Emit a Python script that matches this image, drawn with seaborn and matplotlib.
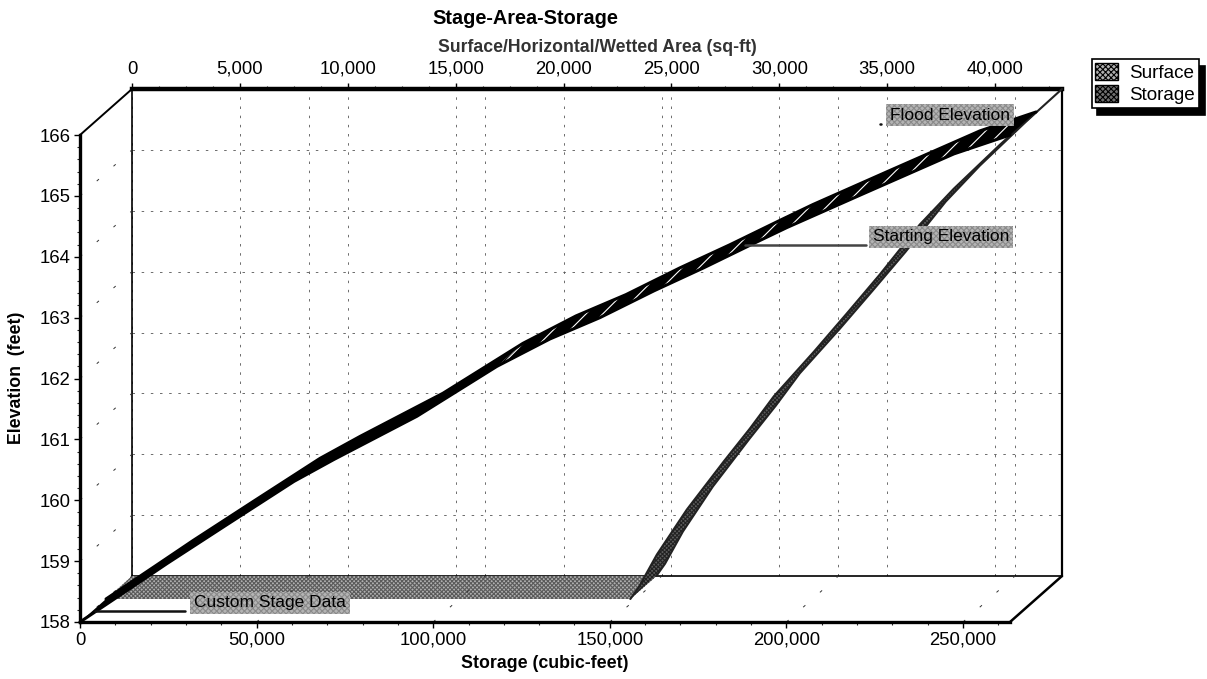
#Stage-area-storage chart, drawn as a fake 3D ribbon chart
import matplotlib
matplotlib.use('Agg')
import matplotlib.pyplot as plt
from matplotlib.lines import Line2D
from matplotlib.patches import Patch
from matplotlib.ticker import FuncFormatter, MultipleLocator
import numpy as np
import pandas as pd
import seaborn as sns

#values
storage_cuft = [0, 14150, 24630, 41620, 60590, 71900, 95400, 118050, 133060, 147210,
                162500, 176650, 190800, 200150, 221950, 247430, 263300]
storage_elev = [158, 158.55, 158.96, 159.6, 160.31, 160.67, 161.38, 162.2, 162.65, 163.0,
                163.44, 163.82, 164.22, 164.48, 165.04, 165.69, 166.0]
area_sqft = [0, 24300, 24700, 25530, 26920, 28630, 29840, 30950, 32800, 34330,
             35860, 37710, 39290, 41420, 43100]
area_elev = [158, 158, 158.2, 158.73, 159.47, 160.26, 160.8, 161.33, 162.06, 162.69,
             163.33, 164.15, 164.74, 165.46, 166.0]
storage_ticks = [0, 50000, 100000, 150000, 200000, 250000]
area_ticks = [0, 5000, 10000, 15000, 20000, 25000, 30000, 35000, 40000]
elev_ticks = [158, 159, 160, 161, 162, 163, 164, 165, 166]

#figure size and the front/back walls, in pixels
W, H = 1207, 679
front_l, front_b, depth_x, depth_y, wall_w, wall_h = 80, 622, 52, 46, 930, 487
storage_max, area_max = 263300, 43100
elev_min, elev_max = 158, 166

sns.set_theme(style='ticks')
plt.rcParams['font.family'] = ['Liberation Sans', 'DejaVu Sans']
plt.rcParams['hatch.linewidth'] = 0.8

fig = plt.figure(figsize=(W / 100, H / 100), dpi=100)
back = fig.add_axes([(front_l + depth_x) / W, (H - front_b + depth_y) / H, wall_w / W, wall_h / H])
ax = fig.add_axes([front_l / W, (H - front_b) / H, wall_w / W, wall_h / H])
back.set_zorder(1)
ax.set_zorder(2)
ax.patch.set_visible(False)

#one full depth step in each axes' data units
dx_storage = depth_x * storage_max / wall_w
dx_area = depth_x * area_max / wall_w
dy_elev = depth_y * (elev_max - elev_min) / wall_h

#----- back wall: area axis, gridlines
back.set_xlim(0, area_max)
back.set_ylim(elev_min, elev_max)
back.set_xticks(area_ticks)
back.xaxis.set_minor_locator(MultipleLocator(1250))
back.xaxis.set_major_formatter(FuncFormatter(lambda v, p: '{:,.0f}'.format(v)))
back.xaxis.tick_top()
back.set_yticks(elev_ticks)
back.tick_params(axis='y', which='both', left=False, labelleft=False)
back.tick_params(axis='x', which='major', length=4, width=1, pad=4, labelsize=13.3, colors='black')
back.tick_params(axis='x', which='minor', length=2, width=0.8)
back.grid(True, which='major', color='#555555', lw=0.6, ls=(0, (3, 8)))
for s in storage_ticks[1:]:
    back.axvline(s * area_max / storage_max, color='#555555', lw=0.6, ls=(0, (3, 8)))
for side, lw in zip(['top', 'left', 'right', 'bottom'], [3.2, 1.2, 1.6, 1.2]):
    back.spines[side].set_linewidth(lw)
    back.spines[side].set_color('black')
    back.spines[side].set_visible(True)

#----- surface ribbon, sits in the rear half of the depth
a = np.array(area_sqft)
e = np.array(area_elev)
#flat part on the floor is pale, the rising part reads much darker
back.fill(np.r_[a[:2], (a[:2] - dx_area / 2)[::-1]], np.r_[e[:2], (e[:2] - dy_elev / 2)[::-1]],
          facecolor='#b0b0b0', edgecolor='#5a5a5a', hatch='xxxxxxxx', lw=0, clip_on=False, zorder=3)
back.fill(np.r_[a[1:], (a[1:] - dx_area / 2)[::-1]], np.r_[e[1:], (e[1:] - dy_elev / 2)[::-1]],
          facecolor='#5c5c5c', edgecolor='#222222', hatch='xxxxxxxx', lw=0, clip_on=False, zorder=3)
back.plot(a[1:], e[1:], color='#222222', lw=1.5, clip_on=False, zorder=4)
back.plot(a[1:] - dx_area / 2, e[1:] - dy_elev / 2, color='#222222', lw=1.5, clip_on=False, zorder=4)

#----- front plane: storage axis, elevation axis
ax.set_xlim(0, storage_max)
ax.set_ylim(elev_min, elev_max)
ax.set_xticks(storage_ticks)
ax.xaxis.set_minor_locator(MultipleLocator(10000))
ax.xaxis.set_major_formatter(FuncFormatter(lambda v, p: '{:,.0f}'.format(v)))
ax.set_yticks(elev_ticks)
ax.yaxis.set_minor_locator(MultipleLocator(0.2))
ax.tick_params(which='major', length=4, width=1, pad=3, labelsize=13.3, colors='black')
ax.tick_params(which='minor', length=2, width=0.8)
ax.spines['top'].set_visible(False)
ax.spines['right'].set_visible(False)
ax.spines['left'].set_linewidth(2.4)
ax.spines['bottom'].set_linewidth(2.4)
ax.spines['left'].set_color('black')
ax.spines['bottom'].set_color('black')

#dashes running back along the floor and the side wall
for s in storage_ticks[1:]:
    ax.plot([s, s + dx_storage], [elev_min, elev_min + dy_elev], color='#333333', lw=0.7,
            ls=(0, (3, 20)), clip_on=False, zorder=1)
for el in elev_ticks[:-1]:
    ax.plot([0, dx_storage], [el, el + dy_elev], color='#333333', lw=0.7,
            ls=(0, (3, 20)), clip_on=False, zorder=1)

#frame corners
ax.plot([0, dx_storage], [elev_max, elev_max + dy_elev], color='black', lw=1.4, clip_on=False)
ax.plot([storage_max, storage_max + dx_storage], [elev_min, elev_min + dy_elev], color='black', lw=1.8, clip_on=False)

#----- storage ribbon, front half of the depth
s = np.array(storage_cuft)
z = np.array(storage_elev)
#the white slits only show on the upper part of the ribbon
split = 8
ax.fill(np.r_[s[:split], (s[:split] + dx_storage / 2)[::-1]], np.r_[z[:split], (z[:split] + dy_elev / 2)[::-1]],
        facecolor='black', lw=0, clip_on=False, zorder=5)
ax.fill(np.r_[s[split - 1:], (s[split - 1:] + dx_storage / 2)[::-1]], np.r_[z[split - 1:], (z[split - 1:] + dy_elev / 2)[::-1]],
        facecolor='black', edgecolor='white', hatch='//', lw=0, clip_on=False, zorder=5)
front_edge = pd.DataFrame({'x': s, 'y': z})
rear_edge = pd.DataFrame({'x': s + dx_storage / 2, 'y': z + dy_elev / 2})
for edge in [front_edge, rear_edge]:
    sns.lineplot(data=edge, x='x', y='y', ax=ax, color='black', lw=2.2, sort=False,
                 estimator=None, clip_on=False, zorder=6)
ax.set_xlabel('')
ax.set_ylabel('')

#----- titles
fig.text(525 / W, 1 - 19 / H, 'Stage-Area-Storage', ha='center', va='center', fontsize=14.3, fontweight='bold', color='black')
fig.text(597 / W, 1 - 48 / H, 'Surface/Horizontal/Wetted Area (sq-ft)', ha='center', va='center',
         fontsize=12.7, fontweight='bold', color='#333333')
fig.text(545 / W, 1 - 663 / H, 'Storage (cubic-feet)', ha='center', va='center', fontsize=12.8, fontweight='bold', color='black')
fig.text(17 / W, 1 - 378 / H, 'Elevation  (feet)', ha='center', va='center', rotation=90, fontsize=12.8, fontweight='bold', color='black')

#----- callouts
box = dict(boxstyle='square,pad=0.22', facecolor='#b4b4b4', edgecolor='#8a8a8a', hatch='xxxxxx', lw=0)
callouts = [('Flood Elevation', 950, 115, 880, 881, 124, '#111111'),
            ('Starting Elevation', 941, 237, 745, 866, 245, '#444444'),
            ('Custom Stage Data', 270, 603, 95, 185, 611, '#111111')]
for label, tx, ty, x0, x1, ly, lc in callouts:
    fig.add_artist(Line2D([x0 / W, x1 / W], [1 - ly / H, 1 - ly / H], color=lc, lw=1.8, zorder=8))
    fig.text(tx / W, 1 - ty / H, label, ha='center', va='center', fontsize=12.5, color='black', bbox=box, zorder=9)

#----- legend
handles = [Patch(facecolor='#b0b0b0', edgecolor='black', hatch='xxxxxx', lw=1, label='Surface'),
           Patch(facecolor='#707070', edgecolor='black', hatch='xxxxxx', lw=1, label='Storage')]
leg = fig.legend(handles=handles, loc='upper right', bbox_to_anchor=(1199 / W, 1 - 59 / H), fontsize=13.6,
                 labelcolor='black', frameon=True, fancybox=False, borderpad=0.2, labelspacing=0.2, handlelength=1.2,
                 handleheight=1.0, handletextpad=0.6, borderaxespad=0,
                 edgecolor='black', shadow={'color': 'black', 'alpha': 1, 'ox': 4, 'oy': -5})
leg.get_frame().set_linewidth(1.2)
leg.get_frame().set_alpha(1)

fig.savefig('out.png', dpi=100)
